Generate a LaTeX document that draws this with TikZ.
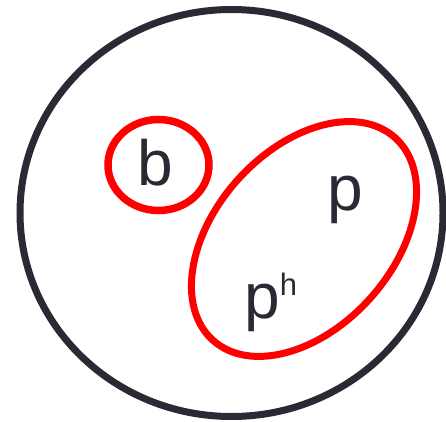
\documentclass[tikz,border=0pt]{standalone}
\usepackage{fontspec}
\setmainfont{Liberation Sans}
\definecolor{ink}{HTML}{2A2A35}
\definecolor{setred}{HTML}{FF0000}
\begin{document}
\begin{tikzpicture}[x=1pt,y=1pt,
  outerset/.style={draw=ink,line width=7pt},
  redset/.style={draw=setred,line width=7pt},
  lbl/.style={text=ink,inner sep=0pt,font=\fontsize{64}{64}\selectfont}]
\useasboundingbox (0,0) rectangle (446,421);
\draw[outerset] (231.5,208) ellipse [x radius=211.5, y radius=203.5];
\draw[redset,line width=7.5pt] (158.5,256) ellipse [x radius=50.5, y radius=45.5];
\draw[redset,rotate around={48:(304,182)}] (304,182) ellipse [x radius=136.2, y radius=88.9];
\node[lbl,anchor=base] (b) at (155.5,236) {b};
\node[lbl,anchor=base] (p) at (345,211) {p};
\node[lbl,anchor=base west] (ph) at (244,103) {p\raisebox{23pt}{\fontsize{31}{31}\selectfont h}};
\end{tikzpicture}
\end{document}
